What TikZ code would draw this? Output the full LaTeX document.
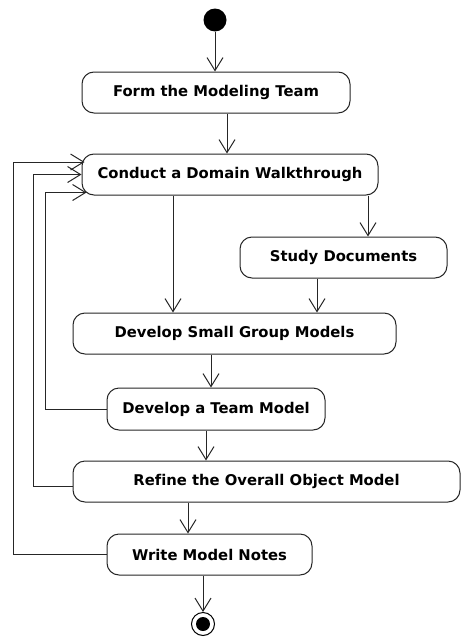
\documentclass[tikz,border=0pt]{standalone}
\usepackage{fontspec}
\setmainfont[Ligatures=NoCommon]{DejaVu Sans}
\usetikzlibrary{arrows.meta}
\begin{document}
\begin{tikzpicture}[x=1pt,y=-1pt,
  flow/.style={draw=black!85, line width=1pt},
  arr/.style={flow, -{Straight Barb[length=13pt,width=16pt,line width=1pt]}},
  action/.style={draw=black!85, line width=1pt, rounded corners=12pt,
    fill=white, minimum height=41pt, inner sep=0pt,
    font=\fontsize{14.8}{16}\selectfont\bfseries},
  initial/.style={circle, fill=black, minimum size=23pt, inner sep=0pt},
  final/.style={circle, draw=black, line width=1pt, minimum size=23pt, inner sep=0pt,
    path picture={\fill[black] (path picture bounding box.center) circle[radius=7pt];}}]
\useasboundingbox (0,0) rectangle (461,637);

% activities
\node[initial] (start) at (215,20) {};
\node[action, minimum width=268pt] (form)    at (216,92.5)  {Form the Modeling Team};
\node[action, minimum width=296pt] (conduct) at (230,174.5) {Conduct a Domain Walkthrough};
\node[action, minimum width=207pt] (study)   at (343.5,257.5) {Study Documents};
\node[action, minimum width=323pt] (small)   at (234.5,333.5) {Develop Small Group Models};
\node[action, minimum width=218pt, minimum height=42pt] (team) at (216,409) {Develop a Team Model};
\node[action, minimum width=387pt] (refine)  at (266.5,481.5) {Refine the Overall Object Model};
\node[action, minimum width=205pt] (notes)   at (209.5,554.5) {Write Model Notes};
\node[final] (end) at (203,624) {};

% columns used by the connectors
\coordinate (cForm)   at (227,0);
\coordinate (cLeft)   at (173,0);
\coordinate (cRight)  at (368,0);
\coordinate (cStudy)  at (317,0);
\coordinate (cSmall)  at (211,0);
\coordinate (cTeam)   at (206,0);
\coordinate (cRefine) at (188,0);
\coordinate (cNotes)  at (203,0);
\coordinate (laneA)   at (13,0);
\coordinate (laneB)   at (33,0);
\coordinate (laneC)   at (45,0);
% entry points on the left of the walkthrough
\coordinate (inA) at ([xshift=3pt,yshift=12.5pt]conduct.west);
\coordinate (inB) at (conduct.west);
\coordinate (inC) at ([xshift=5pt,yshift=-18pt]conduct.west);

% forward flow
\draw[arr] (start) -- (form.north -| start);
\draw[arr] (form.south -| cForm) -- (conduct.north -| cForm);
\draw[arr] (conduct.south -| cLeft) -- (small.north -| cLeft);
\draw[arr] (conduct.south -| cRight) -- (study.north -| cRight);
\draw[arr] (study.south -| cStudy) -- (small.north -| cStudy);
\draw[arr] (small.south -| cSmall) -- (team.north -| cSmall);
\draw[arr] (team.south -| cTeam) -- (refine.north -| cTeam);
\draw[arr] (refine.south -| cRefine) -- (notes.north -| cRefine);
\draw[arr] (notes.south -| cNotes) -- (end.north);

% iteration back to the walkthrough
\draw[arr] (team.west) -- (team.west -| laneC) -- (laneC |- inC) -- (inC);
\draw[arr] ([yshift=-4.5pt]refine.west) -- ([yshift=-4.5pt]refine.west -| laneB) -- (laneB |- inB) -- (inB);
\draw[arr] (notes.west) -- (notes.west -| laneA) -- (laneA |- inA) -- (inA);
\end{tikzpicture}
\end{document}
